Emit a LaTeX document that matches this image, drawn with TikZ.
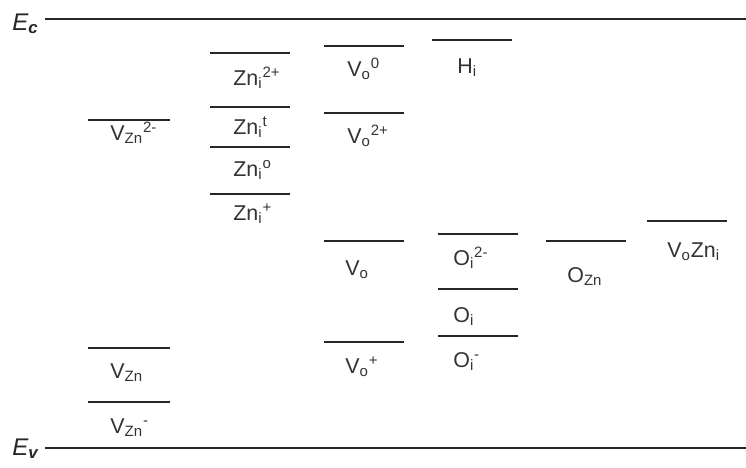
\documentclass[tikz,border=0pt]{standalone}
\usepackage{fontspec}
\setmainfont{Liberation Sans}
\usepackage{tikz}

\begin{document}
\begin{tikzpicture}[x=0.02cm,y=-0.02cm,
    level/.style={line width=1.2pt,draw=black!85},
    band/.style={line width=1.5pt,draw=black!85},
    lab/.style={anchor=base west,inner sep=0pt,text=black!80,font=\fontsize{12.2}{14}\selectfont},
    bandlab/.style={anchor=base west,inner sep=0pt,text=black!85,font=\fontsize{13.7}{16}\selectfont\itshape}]
    \useasboundingbox (0,0) rectangle (746,467);
    % band edges
    \draw[band] (45,19) -- (746,19);
    \draw[band] (45,448) -- (746,448);
    \node[bandlab] (Ec) at (12,30) {E\textsubscript{\bfseries c}};
    \node[bandlab] (Ev) at (12,455) {E\textsubscript{\bfseries v}};
    % zinc vacancy
    \draw[level] (88,120) -- (170,120);
    \node[lab] (VZn2m) at (110,140) {V\textsubscript{Zn}\textsuperscript{2-}};
    \draw[level] (88,348) -- (170,348);
    \node[lab] (VZn) at (110,378) {V\textsubscript{Zn}};
    \draw[level] (88,402) -- (170,402);
    \node[lab] (VZnm) at (110,433) {V\textsubscript{Zn}\textsuperscript{-}};
    % zinc interstitial
    \foreach \ly/\by/\q/\s in {53/85/a/2+,107/134/b/t,147/176/c/o,194/220/d/+}{
        \draw[level] (210,\ly) -- (290,\ly);
        \node[lab] (Zni\q) at (233,\by) {Zn\textsubscript{i}\textsuperscript{\s}};
    }
    % oxygen vacancy
    \draw[level] (324,46) -- (404,46);
    \node[lab] (Vo0) at (347,76) {V\textsubscript{o}\textsuperscript{0}};
    \draw[level] (324,113) -- (404,113);
    \node[lab] (Vo2p) at (347,143) {V\textsubscript{o}\textsuperscript{2+}};
    \draw[level] (324,241) -- (404,241);
    \node[lab] (Vo) at (345,275) {V\textsubscript{o}};
    \draw[level] (324,342) -- (404,342);
    \node[lab] (Vop) at (345,373) {V\textsubscript{o}\textsuperscript{+}};
    % hydrogen
    \draw[level] (432,40) -- (512,40);
    \node[lab] (Hi) at (457,73) {H\textsubscript{i}};
    % oxygen interstitial
    \draw[level] (438,234) -- (518,234);
    \node[lab] (Oi2m) at (453,265) {O\textsubscript{i}\textsuperscript{2-}};
    \draw[level] (438,289) -- (518,289);
    \node[lab] (Oi) at (453,322) {O\textsubscript{i}};
    \draw[level] (438,336) -- (518,336);
    \node[lab] (Oim) at (453,367) {O\textsubscript{i}\textsuperscript{-}};
    % antisite and complex
    \draw[level] (546,241) -- (626,241);
    \node[lab] (OZn) at (567,282) {O\textsubscript{Zn}};
    \draw[level] (647,221) -- (727,221);
    \node[lab] (VoZni) at (667,257) {V\textsubscript{o}Zn\textsubscript{i}};
\end{tikzpicture}
\end{document}
